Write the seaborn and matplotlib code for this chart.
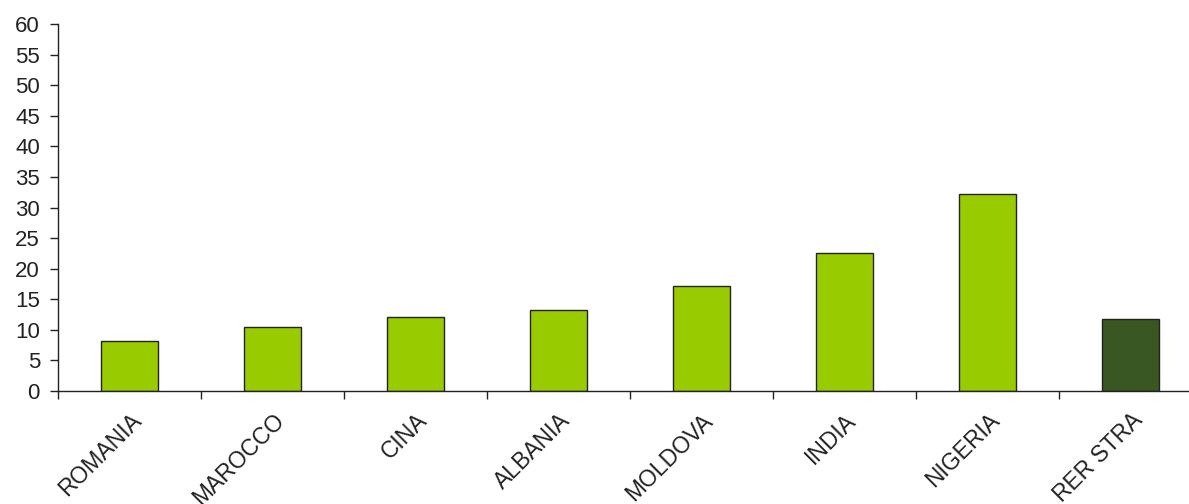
import matplotlib
matplotlib.use("Agg")
import matplotlib.pyplot as plt
import seaborn as sns
import pandas as pd
from matplotlib.ticker import FixedLocator

# Values per country
paesi = ["ROMANIA", "MAROCCO", "CINA", "ALBANIA", "MOLDOVA", "INDIA", "NIGERIA", "RER STRA"]
valori = [8.2, 10.5, 12.1, 13.2, 17.2, 22.6, 32.2, 11.8]
colori = ["#99cc00"] * 7 + ["#385723"]
y_ticks = list(range(0, 61, 5))

sns.set_theme(style="white")
plt.rcParams["font.family"] = ["Liberation Sans", "DejaVu Sans"]

df = pd.DataFrame({"paese": paesi, "valore": valori})

fig = plt.figure(figsize=(11.89, 5.04), dpi=100)
ax = fig.add_axes([58 / 1189, 113 / 504, 1144 / 1189, 367 / 504])

sns.barplot(data=df, x="paese", y="valore", hue="paese", palette=colori,
            width=0.4, edgecolor="#222222", linewidth=1.0, legend=False, ax=ax,
            saturation=1)

ax.set_xlim(-0.5, len(paesi) - 0.5)
ax.set_ylim(0, 60)
ax.set_yticks(y_ticks)
ax.set_xlabel("")
ax.set_ylabel("")

for side in ("top", "right"):
    ax.spines[side].set_visible(False)
for side in ("left", "bottom"):
    ax.spines[side].set_color("#222222")
    ax.spines[side].set_linewidth(1.0)

ax.tick_params(axis="y", which="major", direction="out", length=6, width=1,
               color="#222222", labelsize=16, labelcolor="#222222", pad=7, left=True)
ax.tick_params(axis="x", which="major", length=0, labelsize=16.5,
               labelcolor="#222222", pad=13)
ax.xaxis.set_minor_locator(FixedLocator([i + 0.5 for i in range(-1, len(paesi) - 1)]))
ax.tick_params(axis="x", which="minor", direction="out", length=6, width=1,
               color="#222222", bottom=True)

for lab in ax.get_xticklabels():
    lab.set_rotation(45)
    lab.set_ha("right")
    lab.set_rotation_mode("anchor")

fig.savefig("out.png", dpi=100)
